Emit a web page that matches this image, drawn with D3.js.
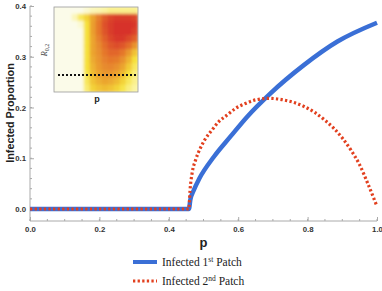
<!DOCTYPE html>
<html>
<head>
<meta charset="utf-8">
<script src="https://cdn.jsdelivr.net/npm/d3@7"></script>
<style>
  body { margin: 0; background: #fff; }
  svg { display: block; }
  .tick text { font-family: "Liberation Sans", Arial, sans-serif; font-weight: bold; font-size: 7.8px; fill: #333; }
</style>
</head>
<body>
<div id="chart"></div>
<script>
// p values and infected proportions
var p1 = [0, 0.458, 0.462, 0.472, 0.488, 0.53, 0.578, 0.626, 0.69, 0.79, 0.886, 1.0];
var infected1 = [0, 0, 0.018, 0.037, 0.06, 0.103, 0.143, 0.182, 0.226, 0.284, 0.330, 0.367];

var p2 = [0, 0.458, 0.461, 0.467, 0.477, 0.491, 0.506, 0.525, 0.544, 0.568, 0.592, 0.621, 0.65, 0.69, 0.73, 0.79, 0.85, 0.90, 0.925, 0.95, 0.973, 1.0];
var infected2 = [0, 0, 0.035, 0.07, 0.096, 0.12, 0.139, 0.156, 0.172, 0.185, 0.198, 0.208, 0.215, 0.218, 0.215, 0.202, 0.175, 0.14, 0.116, 0.087, 0.051, 0.005];

var xTicks = [0, 0.2, 0.4, 0.6, 0.8, 1.0];
var yTicks = [0, 0.1, 0.2, 0.3, 0.4];
var seriesNames = ['Infected 1', 'Infected 2'];
var seriesSups = ['st', 'nd'];

// inset heatmap (rows top -> bottom, cols left -> right), 0..1 intensity
var heat = [
  [0,0,0,0,0,0.05,0.1,0.12,0.15,0.18,0.18,0.18,0.18,0.18],
  [0,0,0,0.1,0.25,0.35,0.5,0.65,0.8,0.9,0.95,0.95,0.95,0.9],
  [0,0,0,0,0.05,0.3,0.52,0.68,0.85,0.95,1,1,1,0.97],
  [0,0,0,0,0,0.3,0.52,0.68,0.83,0.95,1,1,1,0.92],
  [0,0,0,0,0,0.3,0.5,0.64,0.78,0.9,0.97,0.97,0.88,0.78],
  [0,0,0,0,0,0.3,0.5,0.6,0.72,0.82,0.87,0.82,0.72,0.57],
  [0,0,0,0,0,0.3,0.5,0.58,0.68,0.75,0.75,0.68,0.55,0.4],
  [0,0,0,0,0,0.3,0.48,0.56,0.64,0.68,0.66,0.58,0.45,0.3],
  [0,0,0,0,0,0.3,0.45,0.54,0.6,0.62,0.58,0.5,0.38,0.25],
  [0,0,0,0,0,0.28,0.42,0.5,0.55,0.55,0.5,0.42,0.3,0.2],
  [0,0,0,0,0,0.25,0.4,0.46,0.5,0.48,0.43,0.35,0.25,0.18],
  [0,0,0,0,0,0.22,0.35,0.4,0.42,0.4,0.35,0.28,0.2,0.15]
];

var W = 382, H = 291;
var blue = '#3a6fd6', red = '#e2401f';

var svg = d3.select('#chart').append('svg')
  .attr('width', W).attr('height', H);

var x = d3.scaleLinear().domain([0, 1]).range([30, 377]);
var y = d3.scaleLinear().domain([0, 0.4]).range([209, 6]);
var axisY = 221, axisX = 30;

// axes lines
svg.append('line').attr('x1', axisX).attr('x2', 377).attr('y1', axisY).attr('y2', axisY)
  .attr('stroke', '#aaa').attr('stroke-width', 1);
svg.append('line').attr('x1', axisX).attr('x2', axisX).attr('y1', 6).attr('y2', axisY)
  .attr('stroke', '#aaa').attr('stroke-width', 1);

// minor ticks
var xMinor = d3.range(0, 1.0001, 0.05);
var yMinor = d3.range(0, 0.4001, 0.02);
svg.selectAll('.xminor').data(xMinor).enter().append('line')
  .attr('x1', function(d){ return x(d); }).attr('x2', function(d){ return x(d); })
  .attr('y1', axisY).attr('y2', axisY - 2).attr('stroke', '#aaa');
svg.selectAll('.yminor').data(yMinor).enter().append('line')
  .attr('y1', function(d){ return y(d); }).attr('y2', function(d){ return y(d); })
  .attr('x1', axisX).attr('x2', axisX + 2).attr('stroke', '#aaa');

// major ticks + labels
var xa = svg.append('g').attr('transform', 'translate(0,' + axisY + ')')
  .call(d3.axisBottom(x).tickValues(xTicks).tickFormat(d3.format('.1f')).tickSize(-4).tickPadding(5));
xa.select('.domain').remove();
xa.selectAll('.tick line').attr('stroke', '#aaa');
var ya = svg.append('g').attr('transform', 'translate(' + axisX + ',0)')
  .call(d3.axisLeft(y).tickValues(yTicks).tickFormat(d3.format('.1f')).tickSize(-4).tickPadding(4));
ya.select('.domain').remove();
ya.selectAll('.tick line').attr('stroke', '#aaa');

// axis titles
svg.append('text').attr('x', x(0.5)).attr('y', 247).attr('text-anchor', 'middle')
  .style('font-family', 'Liberation Sans, Arial, sans-serif').style('font-weight', 'bold')
  .style('font-size', '13px').attr('fill', '#222').text('p');
svg.append('text').attr('transform', 'translate(14,113) rotate(-90)').attr('text-anchor', 'middle')
  .style('font-family', 'Liberation Sans, Arial, sans-serif').style('font-weight', 'bold')
  .style('font-size', '10.8px').attr('fill', '#222').text('Infected Proportion');

// curves
var line = d3.line().x(function(d){ return x(d[0]); }).y(function(d){ return y(d[1]); })
  .curve(d3.curveMonotoneX);
var data1 = p1.map(function(p, i){ return [p, infected1[i]]; });
var data2 = p2.map(function(p, i){ return [p, infected2[i]]; });

svg.append('path').datum(data1).attr('d', line).attr('fill', 'none')
  .attr('stroke', blue).attr('stroke-width', 4.5);
svg.append('path').datum(data2).attr('d', line).attr('fill', 'none')
  .attr('stroke', red).attr('stroke-width', 3.2).attr('stroke-dasharray', '2.3,2.3');

// inset
var ix0 = 54, iy0 = 7, iw = 84, ih = 85;
var defs = svg.append('defs');
defs.append('clipPath').attr('id', 'insetClip').append('rect')
  .attr('x', ix0).attr('y', iy0).attr('width', iw).attr('height', ih);
defs.append('filter').attr('id', 'soft').attr('x', '-10%').attr('y', '-10%')
  .attr('width', '120%').attr('height', '120%')
  .append('feGaussianBlur').attr('stdDeviation', 1.8);

var heatColor = d3.scaleLinear()
  .domain([0, 0.15, 0.3, 0.5, 0.75, 1])
  .range(['#fbfbe9', '#fbf4a0', '#f6e13a', '#eba42f', '#e2662b', '#d7312a']);
var cx = d3.scaleBand().domain(d3.range(heat[0].length)).range([ix0, ix0 + iw]);
var cy = d3.scaleBand().domain(d3.range(heat.length)).range([iy0, iy0 + ih]);

var ig = svg.append('g').attr('clip-path', 'url(#insetClip)');
ig.append('rect').attr('x', ix0 - 5).attr('y', iy0 - 5).attr('width', iw + 10).attr('height', ih + 10)
  .attr('fill', '#fbfbe9');
var hg = ig.append('g').attr('filter', 'url(#soft)');
heat.forEach(function(row, r) {
  hg.selectAll('.c' + r).data(row).enter().append('rect')
    .attr('x', function(d, c){ return cx(c) - 0.3; })
    .attr('y', cy(r) - 0.3)
    .attr('width', cx.bandwidth() + 0.6).attr('height', cy.bandwidth() + 0.6)
    .attr('fill', function(d){ return heatColor(d); });
});
svg.append('rect').attr('x', ix0).attr('y', iy0).attr('width', iw).attr('height', ih)
  .attr('fill', 'none').attr('stroke', '#999').attr('stroke-width', 0.8);
svg.append('line').attr('x1', 58).attr('x2', 137).attr('y1', 75).attr('y2', 75)
  .attr('stroke', '#111').attr('stroke-width', 2.2).attr('stroke-dasharray', '2,2');
svg.append('text').attr('x', 97).attr('y', 102).attr('text-anchor', 'middle')
  .style('font-family', 'Liberation Sans, Arial, sans-serif').style('font-weight', 'bold')
  .style('font-size', '9px').attr('fill', '#222').text('p');
var rl = svg.append('text').attr('transform', 'translate(47,50) rotate(-90)').attr('text-anchor', 'middle')
  .style('font-family', 'Liberation Serif, Times New Roman, serif').style('font-style', 'italic')
  .style('font-size', '8px').attr('fill', '#444');
rl.append('tspan').text('R');
rl.append('tspan').attr('dy', 2).style('font-size', '6px').style('font-style', 'normal').text('0,2');

// legend
var legY = [262, 281];
var legColors = [blue, red];
seriesNames.forEach(function(name, i) {
  var l = svg.append('line').attr('x1', 133).attr('x2', 157).attr('y1', legY[i]).attr('y2', legY[i])
    .attr('stroke', legColors[i]).attr('stroke-width', i === 0 ? 4 : 3);
  if (i === 1) l.attr('stroke-dasharray', '2.3,2.3');
  var t = svg.append('text').attr('x', 162).attr('y', legY[i] + 4)
    .style('font-family', 'Liberation Serif, Times New Roman, serif')
    .style('font-size', '11.5px').attr('fill', '#222');
  t.append('tspan').text(name);
  t.append('tspan').attr('dy', -4.5).style('font-size', '7.5px').text(seriesSups[i]);
  t.append('tspan').attr('dy', 4.5).text(' Patch');
});
</script>
</body>
</html>
